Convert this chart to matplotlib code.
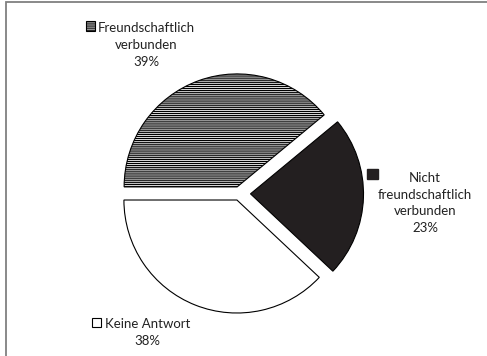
import matplotlib
matplotlib.use("Agg")
import matplotlib.pyplot as plt
from matplotlib.patches import Rectangle

# survey shares, clockwise from nine o'clock
labels = ["Freundschaftlich\nverbunden", "Nicht\nfreundschaftlich\nverbunden", "Keine Antwort"]
shares = [39, 23, 38]
explode = [7, 11, 7]  # in axis units (pixels here)

W, H = 487, 356
plt.rcParams['font.family'] = ['Lato', 'DejaVu Sans']
plt.rcParams['hatch.linewidth'] = 0.9

fig = plt.figure(figsize=(W / 100, H / 100), dpi=100)
ax = fig.add_axes([0, 0, 1, 1])

wedges, _ = ax.pie(shares, startangle=180, counterclock=False, explode=explode,
                   radius=113, center=(239.5, H - 193.5),
                   colors=["white", "#231f20", "white"],
                   wedgeprops=dict(edgecolor="black", linewidth=0.8))
wedges[0].set_hatch("--------")

ax.set_xlim(0, W)
ax.set_ylim(0, H)
ax.set_aspect("equal")
ax.axis("off")

# grey frame, cut off at the right and bottom
ax.add_patch(Rectangle((6, -20), W + 20, H - 2 + 20, fill=False,
                       edgecolor="#808080", linewidth=1.3, clip_on=False))

txt = dict(ha="center", va="center", fontsize=9.5, color="#222222", linespacing=1.45)

# top-left label
ax.text(146, H - 45, labels[0] + "\n%d%%" % shares[0], **txt)
ax.add_patch(Rectangle((86, H - 31), 9, 10, facecolor="white", edgecolor="black",
                       hatch="--------", linewidth=0.8))

# right label
ax.text(425, H - 203, labels[1] + "\n%d%%" % shares[1], **txt)
ax.add_patch(Rectangle((367, H - 179), 11, 10, facecolor="#231f20", edgecolor="#231f20"))

# bottom label
ax.text(147.5, H - 332.5, labels[2] + "\n%d%%" % shares[2], **txt)
ax.add_patch(Rectangle((92, H - 327), 9, 9, facecolor="white", edgecolor="black",
                       linewidth=0.8))

fig.savefig("out.png", dpi=100)
